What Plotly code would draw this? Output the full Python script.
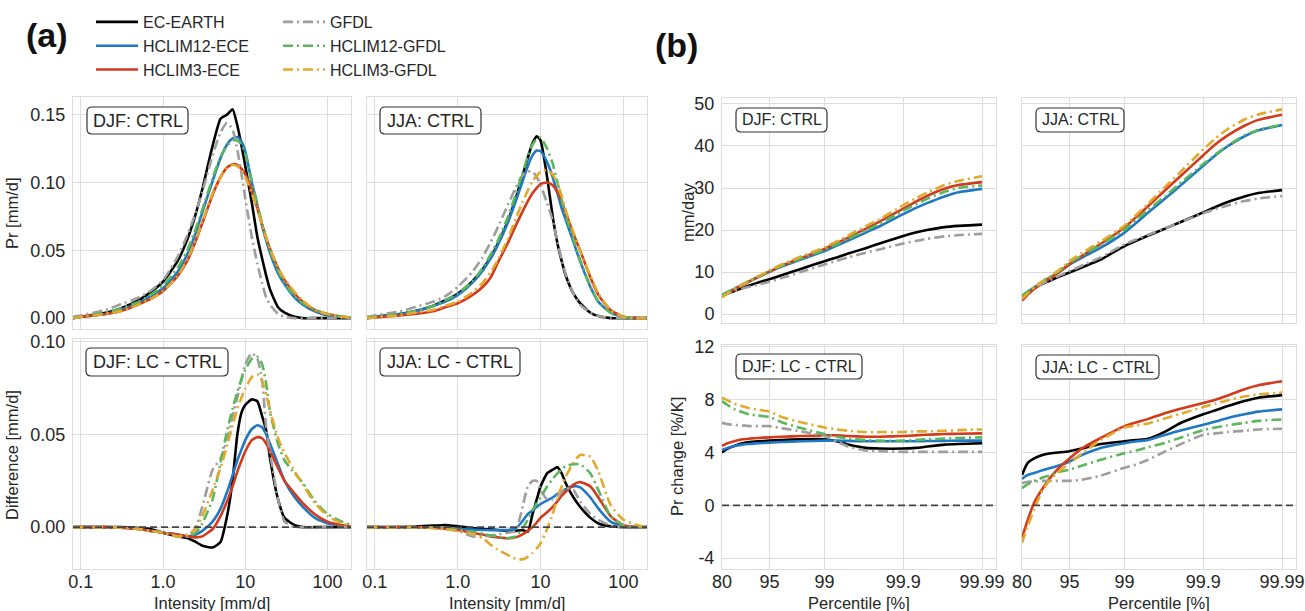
import numpy as np
import plotly.graph_objects as go

W, H = 1305, 611
FONT = "Liberation Sans, Arial, sans-serif"

MODELS = ["EC-EARTH", "HCLIM12-ECE", "HCLIM3-ECE", "GFDL", "HCLIM12-GFDL", "HCLIM3-GFDL"]
COLORS = ["#000000", "#1f78c1", "#d33a1c", "#9e9e9e", "#5cb65c", "#e3a92c"]
DASHES = ["solid", "solid", "solid", "10px,4px,2px,4px", "10px,4px,2px,4px", "10px,4px,2px,4px"]

# ---------------- (a) intensity distributions ----------------
intensity = [0.08, 0.1, 0.2, 0.3, 0.5, 0.7, 1, 1.5, 2, 2.5, 3, 4, 5, 6, 7, 8, 9, 10,
             12, 14, 16, 18, 20, 25, 30, 40, 50, 70, 100, 150, 200]

djf_ctrl = {
    "EC-EARTH":     [0.000, 0.001, 0.004, 0.007, 0.013, 0.019, 0.027, 0.042, 0.059, 0.077, 0.095, 0.127, 0.147, 0.150, 0.154, 0.142, 0.127, 0.112, 0.085, 0.060, 0.044, 0.031, 0.021, 0.008, 0.004, 0.001, 0, 0, 0, 0, 0],
    "HCLIM12-ECE":  [0.000, 0.001, 0.003, 0.006, 0.011, 0.016, 0.022, 0.034, 0.048, 0.063, 0.078, 0.101, 0.118, 0.128, 0.1325, 0.1335, 0.130, 0.123, 0.100, 0.083, 0.068, 0.057, 0.048, 0.033, 0.025, 0.015, 0.010, 0.005, 0.002, 0.001, 0.0005],
    "HCLIM3-ECE":   [0.000, 0.001, 0.003, 0.005, 0.010, 0.014, 0.020, 0.031, 0.043, 0.057, 0.070, 0.091, 0.104, 0.111, 0.1135, 0.113, 0.110, 0.106, 0.094, 0.081, 0.069, 0.059, 0.051, 0.037, 0.028, 0.018, 0.012, 0.006, 0.003, 0.001, 0.0005],
    "GFDL":         [0.001, 0.002, 0.006, 0.010, 0.015, 0.020, 0.028, 0.045, 0.062, 0.078, 0.093, 0.120, 0.137, 0.144, 0.139, 0.124, 0.106, 0.088, 0.060, 0.040, 0.026, 0.015, 0.010, 0.003, 0.001, 0, 0, 0, 0, 0, 0],
    "HCLIM12-GFDL": [0.000, 0.001, 0.004, 0.007, 0.012, 0.017, 0.024, 0.037, 0.051, 0.066, 0.080, 0.103, 0.119, 0.127, 0.131, 0.131, 0.128, 0.121, 0.101, 0.084, 0.070, 0.059, 0.050, 0.035, 0.026, 0.016, 0.011, 0.006, 0.003, 0.001, 0.0005],
    "HCLIM3-GFDL":  [0.000, 0.001, 0.003, 0.005, 0.010, 0.014, 0.020, 0.031, 0.044, 0.058, 0.071, 0.092, 0.104, 0.111, 0.113, 0.112, 0.109, 0.104, 0.092, 0.080, 0.069, 0.059, 0.051, 0.037, 0.029, 0.019, 0.013, 0.006, 0.003, 0.001, 0.0005],
}

jja_ctrl = {
    "EC-EARTH":     [0.000, 0.001, 0.003, 0.005, 0.009, 0.013, 0.018, 0.027, 0.036, 0.045, 0.054, 0.071, 0.088, 0.104, 0.118, 0.129, 0.134, 0.131, 0.104, 0.075, 0.055, 0.042, 0.032, 0.018, 0.011, 0.004, 0.0015, 0, 0, 0, 0],
    "HCLIM12-ECE":  [0.000, 0.001, 0.003, 0.005, 0.009, 0.012, 0.017, 0.026, 0.035, 0.044, 0.053, 0.070, 0.086, 0.100, 0.112, 0.120, 0.1235, 0.123, 0.115, 0.104, 0.092, 0.081, 0.073, 0.056, 0.042, 0.023, 0.012, 0.004, 0.001, 0, 0],
    "HCLIM3-ECE":   [0.000, 0.0005, 0.002, 0.003, 0.005, 0.008, 0.011, 0.017, 0.023, 0.030, 0.040, 0.055, 0.068, 0.078, 0.086, 0.092, 0.096, 0.099, 0.100, 0.098, 0.093, 0.086, 0.078, 0.062, 0.050, 0.030, 0.017, 0.006, 0.001, 0, 0],
    "GFDL":         [0.001, 0.002, 0.005, 0.008, 0.012, 0.016, 0.023, 0.034, 0.045, 0.056, 0.066, 0.083, 0.096, 0.105, 0.108, 0.108, 0.104, 0.098, 0.085, 0.072, 0.056, 0.043, 0.033, 0.018, 0.010, 0.004, 0.0015, 0, 0, 0, 0],
    "HCLIM12-GFDL": [0.000, 0.001, 0.003, 0.005, 0.009, 0.013, 0.018, 0.027, 0.037, 0.047, 0.056, 0.074, 0.091, 0.106, 0.119, 0.128, 0.132, 0.133, 0.125, 0.114, 0.100, 0.087, 0.076, 0.058, 0.043, 0.023, 0.012, 0.004, 0.001, 0, 0],
    "HCLIM3-GFDL":  [0.000, 0.0005, 0.002, 0.004, 0.006, 0.009, 0.012, 0.019, 0.026, 0.034, 0.042, 0.058, 0.073, 0.085, 0.094, 0.101, 0.105, 0.108, 0.109, 0.106, 0.099, 0.090, 0.080, 0.063, 0.050, 0.031, 0.018, 0.006, 0.001, 0, 0],
}

djf_diff = {
    "EC-EARTH":     [0, 0, 0, 0, -0.0005, -0.001, -0.003, -0.005, -0.006, -0.008, -0.010, -0.011, -0.008, 0.006, 0.025, 0.050, 0.062, 0.066, 0.069, 0.068, 0.060, 0.052, 0.037, 0.015, 0.005, 0.001, 0, 0, 0, 0, 0],
    "HCLIM12-ECE":  [0, 0, 0, -0.0003, -0.001, -0.002, -0.003, -0.004, -0.005, -0.004, -0.002, 0.003, 0.010, 0.019, 0.028, 0.036, 0.042, 0.047, 0.053, 0.055, 0.054, 0.050, 0.045, 0.034, 0.025, 0.016, 0.011, 0.005, 0.002, 0.001, 0],
    "HCLIM3-ECE":   [0, 0, 0, -0.0003, -0.001, -0.002, -0.003, -0.004, -0.005, -0.0055, -0.005, -0.001, 0.006, 0.014, 0.022, 0.030, 0.036, 0.041, 0.047, 0.0486, 0.048, 0.045, 0.041, 0.032, 0.025, 0.018, 0.013, 0.007, 0.003, 0.001, 0],
    "GFDL":         [0, 0, 0, -0.0003, -0.001, -0.002, -0.003, -0.005, -0.005, 0.000, 0.011, 0.031, 0.037, 0.047, 0.060, 0.070, 0.080, 0.088, 0.094, 0.091, 0.079, 0.053, 0.040, 0.015, 0.003, 0, 0, 0, 0, 0, 0],
    "HCLIM12-GFDL": [0, 0, 0, -0.0003, -0.001, -0.002, -0.003, -0.005, -0.005, -0.003, 0.002, 0.015, 0.035, 0.052, 0.064, 0.073, 0.080, 0.085, 0.091, 0.092, 0.088, 0.077, 0.062, 0.045, 0.036, 0.029, 0.024, 0.014, 0.007, 0.003, 0.001],
    "HCLIM3-GFDL":  [0, 0, 0, -0.0003, -0.001, -0.002, -0.003, -0.005, -0.004, -0.001, 0.006, 0.020, 0.032, 0.044, 0.055, 0.064, 0.070, 0.075, 0.081, 0.0825, 0.079, 0.071, 0.063, 0.048, 0.040, 0.030, 0.023, 0.013, 0.006, 0.002, 0.001],
}

jja_diff = {
    "EC-EARTH":     [0, 0, 0, 0.0003, 0.0008, 0.0012, 0.0005, -0.0005, -0.001, -0.0012, -0.0015, -0.002, -0.002, -0.0015, -0.0025, 0.007, 0.015, 0.022, 0.029, 0.031, 0.0324, 0.029, 0.024, 0.016, 0.011, 0.005, 0.002, 0.0005, 0, 0, 0],
    "HCLIM12-ECE":  [0, 0, 0, 0, -0.0003, -0.0005, -0.001, -0.0013, -0.0015, -0.0016, -0.0016, -0.0015, -0.0008, 0.003, 0.007, 0.009, 0.011, 0.0125, 0.0145, 0.016, 0.018, 0.019, 0.0205, 0.022, 0.0215, 0.016, 0.010, 0.003, 0.0005, 0, 0],
    "HCLIM3-ECE":   [0, 0, 0, 0, -0.0003, -0.0008, -0.0015, -0.003, -0.004, -0.005, -0.0055, -0.006, -0.0055, -0.004, -0.002, 0.000, 0.0025, 0.005, 0.008, 0.011, 0.014, 0.017, 0.019, 0.023, 0.0244, 0.022, 0.016, 0.006, 0.001, 0, 0],
    "GFDL":         [0, 0, 0, 0, -0.0005, -0.001, -0.002, -0.005, -0.005, -0.0045, -0.004, -0.003, -0.002, 0.010, 0.022, 0.025, 0.025, 0.020, 0.015, 0.015, 0.017, 0.019, 0.021, 0.020, 0.014, 0.007, 0.004, 0.001, 0, 0, 0],
    "HCLIM12-GFDL": [0, 0, 0, 0, -0.0003, -0.0008, -0.0015, -0.0025, -0.0035, -0.0045, -0.005, -0.006, -0.005, -0.001, 0.004, 0.009, 0.013, 0.016, 0.022, 0.026, 0.029, 0.031, 0.033, 0.034, 0.034, 0.029, 0.020, 0.006, 0.001, 0, 0],
    "HCLIM3-GFDL":  [0, 0, 0, 0, -0.0005, -0.001, -0.002, -0.0035, -0.006, -0.0095, -0.012, -0.015, -0.017, -0.0174, -0.016, -0.014, -0.0115, -0.0088, -0.001, 0.007, 0.016, 0.022, 0.027, 0.035, 0.039, 0.038, 0.030, 0.012, 0.004, 0.001, 0],
}

# ---------------- (b) percentiles ----------------
percentile = [80, 83, 86, 89, 91, 93, 95, 96.5, 98, 99, 99.3, 99.5, 99.7, 99.8,
              99.9, 99.93, 99.95, 99.97, 99.98, 99.99]

djf_pct = {
    "EC-EARTH":     [4.4, 4.9, 5.5, 6.2, 6.8, 7.5, 8.3, 9.25, 10.75, 12.6, 13.5, 14.4, 15.7, 16.8, 18.6, 19.4, 20.0, 20.7, 21.0, 21.3],
    "HCLIM12-ECE":  [4.5, 5.2, 6.0, 7.0, 7.8, 8.8, 10.1, 11.3, 13.0, 15.0, 16.3, 17.5, 19.4, 20.9, 23.8, 25.2, 26.4, 28.0, 29.0, 29.8],
    "HCLIM3-ECE":   [4.2, 5.0, 5.9, 6.9, 7.8, 8.8, 10.1, 11.5, 13.3, 15.5, 16.9, 18.2, 20.3, 22.0, 25.1, 26.7, 28.1, 29.8, 30.7, 31.4],
    "GFDL":         [4.6, 5.0, 5.5, 6.1, 6.5, 7.0, 7.7, 8.6, 10.0, 11.8, 12.7, 13.5, 14.6, 15.4, 16.8, 17.4, 17.9, 18.5, 18.8, 19.1],
    "HCLIM12-GFDL": [4.6, 5.3, 6.1, 7.1, 7.9, 8.9, 10.2, 11.5, 13.2, 15.3, 16.6, 17.9, 19.9, 21.5, 24.6, 26.1, 27.4, 29.1, 30.0, 30.6],
    "HCLIM3-GFDL":  [4.0, 4.9, 5.9, 7.0, 7.9, 9.0, 10.4, 11.8, 13.7, 15.9, 17.3, 18.7, 20.9, 22.6, 25.9, 27.5, 28.9, 30.7, 31.7, 32.8],
}

jja_pct = {
    "EC-EARTH":     [3.8, 5.0, 6.2, 7.2, 7.9, 8.8, 9.9, 11.1, 13.0, 16.2, 17.5, 18.7, 20.4, 21.8, 24.2, 25.5, 26.6, 28.0, 28.8, 29.5],
    "HCLIM12-ECE":  [4.3, 5.3, 6.4, 7.7, 8.6, 9.8, 11.8, 13.4, 15.8, 19.4, 21.8, 24.2, 27.6, 30.4, 35.3, 37.8, 39.8, 42.3, 43.7, 45.0],
    "HCLIM3-ECE":   [3.2, 4.6, 6.0, 7.4, 8.4, 9.8, 11.9, 13.8, 16.7, 20.6, 23.2, 25.7, 29.6, 32.6, 37.8, 40.4, 42.4, 44.8, 46.2, 47.4],
    "GFDL":         [3.9, 5.1, 6.3, 7.3, 8.0, 9.0, 10.2, 11.5, 13.5, 16.6, 17.8, 18.9, 20.5, 21.8, 24.0, 25.0, 25.8, 26.9, 27.5, 28.1],
    "HCLIM12-GFDL": [4.4, 5.4, 6.5, 7.8, 8.8, 10.1, 12.2, 13.9, 16.5, 20.1, 22.5, 24.8, 28.2, 31.0, 35.7, 38.0, 40.0, 42.5, 43.8, 45.1],
    "HCLIM3-GFDL":  [3.6, 4.9, 6.3, 7.8, 8.8, 10.3, 12.6, 14.5, 17.3, 21.0, 23.7, 26.3, 30.4, 33.6, 39.2, 41.8, 43.9, 46.3, 47.5, 48.7],
}

djf_change = {
    "EC-EARTH":     [4.0, 4.3, 4.5, 4.7, 4.8, 4.85, 4.9, 4.95, 5.0, 5.0, 4.85, 4.6, 4.35, 4.3, 4.3, 4.35, 4.45, 4.6, 4.65, 4.7],
    "HCLIM12-ECE":  [4.2, 4.35, 4.5, 4.6, 4.65, 4.7, 4.75, 4.8, 4.85, 4.9, 4.9, 4.88, 4.85, 4.85, 4.85, 4.85, 4.87, 4.88, 4.9, 4.9],
    "HCLIM3-ECE":   [4.5, 4.7, 4.85, 5.0, 5.05, 5.1, 5.15, 5.2, 5.25, 5.3, 5.3, 5.25, 5.2, 5.2, 5.25, 5.3, 5.35, 5.4, 5.42, 5.45],
    "GFDL":         [6.25, 6.15, 6.1, 6.05, 6.0, 6.0, 6.0, 5.85, 5.6, 5.25, 4.85, 4.45, 4.15, 4.1, 4.05, 4.05, 4.05, 4.05, 4.05, 4.05],
    "HCLIM12-GFDL": [7.9, 7.6, 7.3, 7.05, 6.9, 6.8, 6.7, 6.3, 5.85, 5.4, 5.2, 5.05, 4.95, 4.9, 4.9, 4.95, 5.0, 5.05, 5.1, 5.15],
    "HCLIM3-GFDL":  [8.15, 7.95, 7.7, 7.5, 7.35, 7.25, 7.1, 6.7, 6.3, 5.9, 5.75, 5.65, 5.55, 5.55, 5.55, 5.6, 5.6, 5.65, 5.7, 5.75],
}

jja_change = {
    "EC-EARTH":     [2.3, 3.2, 3.55, 3.82, 3.93, 4.0, 4.1, 4.3, 4.65, 4.85, 4.95, 5.05, 5.6, 6.2, 6.9, 7.2, 7.5, 7.9, 8.15, 8.35],
    "HCLIM12-ECE":  [2.0, 2.3, 2.45, 2.65, 2.8, 3.0, 3.3, 3.8, 4.35, 4.7, 4.85, 4.95, 5.35, 5.65, 6.1, 6.35, 6.6, 6.9, 7.1, 7.27],
    "HCLIM3-ECE":   [-2.45, -1.15, 0.2, 1.25, 2.0, 2.75, 3.55, 4.3, 5.1, 6.0, 6.3, 6.55, 7.0, 7.3, 7.75, 8.0, 8.3, 8.8, 9.1, 9.4],
    "GFDL":         [1.68, 1.78, 1.8, 1.85, 1.85, 1.85, 1.85, 1.93, 2.25, 2.85, 3.1, 3.45, 4.1, 4.6, 5.35, 5.45, 5.55, 5.65, 5.75, 5.8],
    "HCLIM12-GFDL": [1.3, 1.6, 1.85, 2.1, 2.25, 2.5, 2.7, 3.0, 3.45, 3.95, 4.15, 4.4, 4.75, 5.1, 5.7, 5.9, 6.05, 6.25, 6.4, 6.5],
    "HCLIM3-GFDL":  [-2.85, -1.6, -0.3, 1.15, 1.85, 2.5, 3.17, 3.9, 4.95, 5.9, 6.05, 6.2, 6.6, 6.9, 7.45, 7.7, 7.95, 8.25, 8.4, 8.55],
}

pct_ticks = [80, 95, 99, 99.9, 99.99]
pct_ticktext = ["80", "95", "99", "99.9", "99.99"]


def pct_axis(p):
    """Exceedance-probability transform used for the percentile axis."""
    return -np.log10(1.0 - np.asarray(p, dtype=float) / 100.0)


# ---------------- layout helpers (pixel -> paper) ----------------
def px_x(v):
    return v / W


def px_y(v):
    return 1 - v / H


panels = [
    # key, x px range, y px range
    ("1", (73, 351), (97, 329)),
    ("2", (367, 647), (97, 329)),
    ("3", (73, 351), (339, 569)),
    ("4", (367, 647), (339, 569)),
    ("5", (722, 996), (98, 323)),
    ("6", (1022, 1296), (98, 323)),
    ("7", (722, 996), (345, 569)),
    ("8", (1022, 1296), (345, 569)),
]

fig = go.Figure()

panel_data = [
    ("1", intensity, djf_ctrl),
    ("2", intensity, jja_ctrl),
    ("3", intensity, djf_diff),
    ("4", intensity, jja_diff),
    ("5", pct_axis(percentile), djf_pct),
    ("6", pct_axis(percentile), jja_pct),
    ("7", pct_axis(percentile), djf_change),
    ("8", pct_axis(percentile), jja_change),
]

for key, xs, series in panel_data:
    for i, m in enumerate(MODELS):
        ax = "" if key == "1" else key
        fig.add_trace(go.Scatter(
            x=list(xs), y=series[m], mode="lines", name=m,
            line=dict(color=COLORS[i], width=2.6, dash=DASHES[i], shape="spline", smoothing=0.5),
            xaxis="x" + ax, yaxis="y" + ax,
            legendgroup=m, showlegend=(key == "1"),
            legend="legend" if i < 3 else "legend2",
        ))

GRID = "#dddddd"
TICKFONT = dict(family=FONT, size=18, color="#262626")

layout = dict(
    width=W, height=H, margin=dict(l=0, r=0, t=0, b=0, pad=0, autoexpand=False),
    paper_bgcolor="white", plot_bgcolor="white",
    font=dict(family=FONT, color="#262626"),
)

for key, (x0, x1), (y0, y1) in panels:
    xa = "xaxis" if key == "1" else "xaxis" + key
    ya = "yaxis" if key == "1" else "yaxis" + key
    ax = "" if key == "1" else key
    k = int(key)
    common = dict(showgrid=True, gridcolor=GRID, gridwidth=1, showline=True, linecolor=GRID,
                  linewidth=1, mirror=True, zeroline=False, ticks="", ticklen=0,
                  tickfont=TICKFONT, automargin=False)
    xdict = dict(common, domain=[px_x(x0), px_x(x1)], anchor="y" + ax)
    ydict = dict(common, domain=[px_y(y1), px_y(y0)], anchor="x" + ax)
    if k <= 4:
        xdict.update(type="log", range=[-1.095, 2.285], tickvals=[0.1, 1, 10, 100],
                     ticktext=["0.1", "1.0", "10", "100"])
        if k <= 2:
            ydict.update(range=[-0.008, 0.163], tickvals=[0, 0.05, 0.10, 0.15],
                         ticktext=["0.00", "0.05", "0.10", "0.15"])
        else:
            ydict.update(range=[-0.0226, 0.1016], tickvals=[0, 0.05, 0.10],
                         ticktext=["0.00", "0.05", "0.10"])
    else:
        xdict.update(range=[pct_axis(80), 4.177], tickvals=list(pct_axis(pct_ticks)),
                     ticktext=pct_ticktext)
        if k <= 6:
            ydict.update(range=[-2.1, 51.4], tickvals=[0, 10, 20, 30, 40, 50],
                         ticktext=["0", "10", "20", "30", "40", "50"])
        else:
            ydict.update(range=[-4.83, 12.15], tickvals=[-4, 0, 4, 8, 12],
                         ticktext=["-4", "0", "4", "8", "12"])
    if k in (1, 2, 5, 6):
        xdict["showticklabels"] = False
    if k in (2, 4, 6, 8):
        ydict["showticklabels"] = False
    xdict["ticklabelstandoff"] = -4
    ydict["ticklabelstandoff"] = 3
    layout[xa] = xdict
    layout[ya] = ydict

shapes = []
annotations = []

# dashed zero line in the change panels
for key in ("3", "4", "7", "8"):
    shapes.append(dict(type="line", xref=f"x{key} domain", yref=f"y{key}",
                       x0=0, x1=1, y0=0, y1=0, layer="above",
                       line=dict(color="#444444", width=1.8, dash="7px,4px")))


def rounded_box(x0, y0, x1, y1, r=5):
    X0, X1 = px_x(x0), px_x(x1)
    Y0, Y1 = px_y(y0), px_y(y1)
    rx, ry = r / W, r / H
    p = (f"M{X0+rx},{Y0} L{X1-rx},{Y0} Q{X1},{Y0} {X1},{Y0-ry} "
         f"L{X1},{Y1+ry} Q{X1},{Y1} {X1-rx},{Y1} "
         f"L{X0+rx},{Y1} Q{X0},{Y1} {X0},{Y1+ry} "
         f"L{X0},{Y0-ry} Q{X0},{Y0} {X0+rx},{Y0} Z")
    return dict(type="path", path=p, xref="paper", yref="paper", layer="above",
                fillcolor="white", line=dict(color="#333333", width=1.2))


labels = [
    ("DJF: CTRL", (87, 107, 188, 134), 18),
    ("JJA: CTRL", (380, 107, 481, 134), 18),
    ("DJF: LC - CTRL", (86, 348, 228, 376), 18),
    ("JJA: LC - CTRL", (380, 348, 520, 376), 18),
    ("DJF: CTRL", (736, 108, 827, 132), 16),
    ("JJA: CTRL", (1036, 108, 1124, 132), 16),
    ("DJF: LC - CTRL", (736, 354, 862, 379), 16),
    ("JJA: LC - CTRL", (1036, 355, 1159, 379), 16),
]
for text, (x0, y0, x1, y1), fs in labels:
    shapes.append(rounded_box(x0, y0, x1, y1))
    annotations.append(dict(text=text, xref="paper", yref="paper",
                            x=px_x((x0 + x1) / 2), y=px_y((y0 + y1) / 2),
                            xanchor="center", yanchor="middle", showarrow=False,
                            font=dict(family=FONT, size=fs, color="#262626")))

# axis titles
axis_titles = [
    ("Pr [mm/d]", 12, 213, -90),
    ("Difference [mm/d]", 12, 455, -90),
    ("mm/day", 688, 213, -90),
    ("Pr change [%/K]", 677, 457, -90),
    ("Intensity [mm/d]", 212, 603, 0),
    ("Intensity [mm/d]", 507, 603, 0),
    ("Percentile [%]", 859, 603, 0),
    ("Percentile [%]", 1159, 603, 0),
]
for text, x, y, ang in axis_titles:
    annotations.append(dict(text=text, xref="paper", yref="paper", x=px_x(x), y=px_y(y),
                            xanchor="center", yanchor="middle", showarrow=False,
                            textangle=ang, font=dict(family=FONT, size=16.5, color="#262626")))

# panel letters
annotations.append(dict(text="<b>(a)</b>", xref="paper", yref="paper", x=px_x(47), y=px_y(35),
                        xanchor="center", yanchor="middle", showarrow=False,
                        font=dict(family=FONT, size=34, color="#111111")))
annotations.append(dict(text="<b>(b)</b>", xref="paper", yref="paper", x=px_x(676), y=px_y(45),
                        xanchor="center", yanchor="middle", showarrow=False,
                        font=dict(family=FONT, size=34, color="#111111")))

legend_common = dict(orientation="v", xanchor="left", yanchor="top", bgcolor="rgba(0,0,0,0)",
                     font=dict(family=FONT, size=16, color="#262626"), itemwidth=42,
                     tracegroupgap=0, itemclick=False, itemdoubleclick=False)
layout["legend"] = dict(legend_common, x=px_x(91), y=px_y(5))
layout["legend2"] = dict(legend_common, x=px_x(278), y=px_y(5))
layout["shapes"] = shapes
layout["annotations"] = annotations
layout["showlegend"] = True

fig.update_layout(**layout)
fig.write_html("out.html")
